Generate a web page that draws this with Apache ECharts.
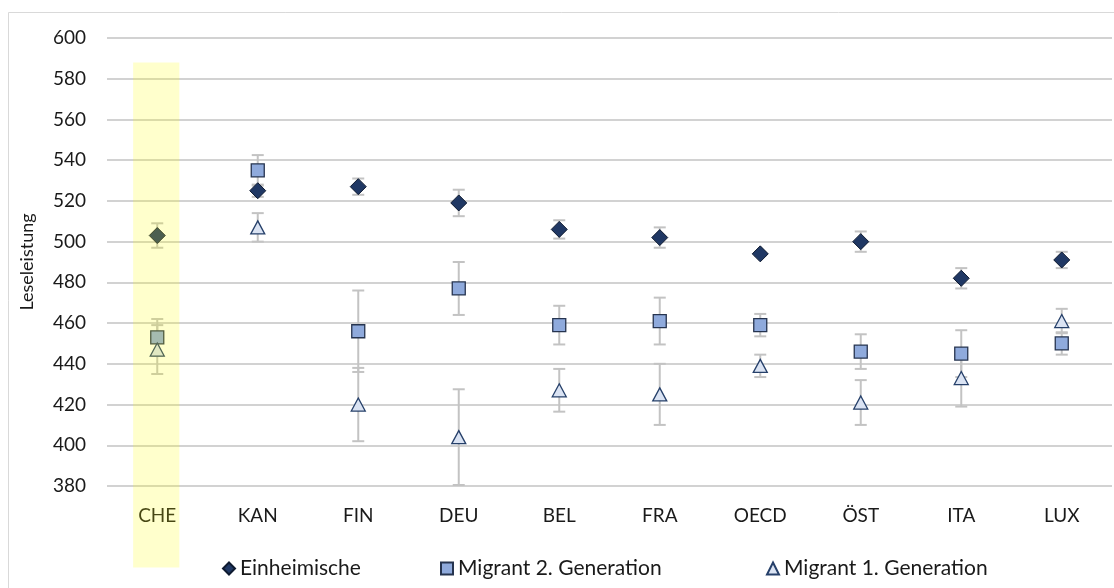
<!DOCTYPE html>
<html>
<head>
<meta charset="utf-8">
<script src="https://cdn.jsdelivr.net/npm/echarts@6/dist/echarts.min.js"></script>
<style>
  html, body { margin: 0; padding: 0; background: #ffffff; }
  #chart { width: 1114px; height: 588px; }
</style>
</head>
<body>
<div id="chart"></div>
<script>
// Reading performance (Leseleistung) by country and migration background
const countries = ['CHE', 'KAN', 'FIN', 'DEU', 'BEL', 'FRA', 'OECD', 'ÖST', 'ITA', 'LUX'];

const einheimische    = [503, 525, 527, 519, 506, 502, 494, 500, 482, 491];
const einheimischeErr = [6, 3, 4, 6.5, 4.5, 5, 1, 5, 5, 4];

const migrant2    = [453, 535, 456, 477, 459, 461, 459, 446, 445, 450];
const migrant2Err = [9, 7.5, 20, 13, 9.5, 11.5, 5.5, 8.5, 11.5, 5.5];

const migrant1    = [447, 507, 420, 404, 427, 425, 439, 421, 433, 461];
const migrant1Err = [12, 7, 18, 23.5, 10.5, 15, 5.5, 11, 14, 6];

const yTicks = { min: 380, max: 600, interval: 20 };
const highlighted = 'CHE';

const FONT = 'Lato, "Open Sans", sans-serif';
const TEXT = '#1a1a1a';

// vertical whisker with caps, drawn through the axis scales
function errorSeries(id, values, errs) {
  return {
    type: 'custom',
    id: id,
    z: 1,
    silent: true,
    data: values.map((v, i) => [i, v - errs[i], v + errs[i]]),
    encode: { x: 0, y: [1, 2] },
    renderItem: function (params, api) {
      const i = api.value(0);
      const lo = api.coord([i, api.value(1)]);
      const hi = api.coord([i, api.value(2)]);
      const half = 6;
      const style = { stroke: '#c3c3c3', lineWidth: 2, fill: null };
      return {
        type: 'group',
        children: [
          { type: 'line', shape: { x1: lo[0], y1: lo[1], x2: hi[0], y2: hi[1] }, style: style },
          { type: 'line', shape: { x1: lo[0] - half, y1: lo[1], x2: lo[0] + half, y2: lo[1] }, style: style },
          { type: 'line', shape: { x1: hi[0] - half, y1: hi[1], x2: hi[0] + half, y2: hi[1] }, style: style }
        ]
      };
    }
  };
}

const legendBase = {
  top: 553,
  itemWidth: 12,
  itemHeight: 12,
  itemGap: 0,
  selectedMode: false,
  textStyle: { fontFamily: FONT, fontSize: 21, color: TEXT, lineHeight: 20 }
};

const chart = echarts.init(document.getElementById('chart'), null, { renderer: 'canvas' });

chart.setOption({
  animation: false,
  backgroundColor: '#ffffff',
  grid: { left: 107, right: 2, top: 38, bottom: 102, containLabel: false },
  xAxis: {
    type: 'category',
    data: countries,
    axisLine: { show: false },
    axisTick: { show: false },
    splitLine: { show: false },
    axisLabel: { fontFamily: FONT, fontSize: 19, color: TEXT, margin: 20 }
  },
  yAxis: {
    type: 'value',
    min: yTicks.min,
    max: yTicks.max,
    interval: yTicks.interval,
    name: 'Leseleistung',
    nameLocation: 'middle',
    nameGap: 71,
    nameTextStyle: { fontFamily: FONT, fontSize: 18, color: TEXT },
    axisLine: { show: false },
    axisTick: { show: false },
    axisLabel: { fontFamily: FONT, fontSize: 19, color: TEXT, margin: 21 },
    splitLine: { lineStyle: { color: '#d2d2d2', width: 2 } }
  },
  legend: [
    Object.assign({}, legendBase, { left: 217, data: [{ name: 'Einheimische', icon: 'diamond' }] }),
    Object.assign({}, legendBase, { left: 435, data: [{ name: 'Migrant 2. Generation', icon: 'rect' }] }),
    Object.assign({}, legendBase, { left: 761, data: [{ name: 'Migrant 1. Generation', icon: 'triangle' }] })
  ],
  series: [
    errorSeries('err-einheimische', einheimische, einheimischeErr),
    errorSeries('err-migrant2', migrant2, migrant2Err),
    errorSeries('err-migrant1', migrant1, migrant1Err),
    {
      type: 'scatter',
      name: 'Einheimische',
      z: 3,
      symbol: 'diamond',
      symbolSize: [16, 16],
      itemStyle: { color: '#203864', borderColor: '#0e1a30', borderWidth: 1, opacity: 1 },
      data: einheimische
    },
    {
      type: 'scatter',
      name: 'Migrant 2. Generation',
      z: 4,
      symbol: 'rect',
      symbolSize: [13, 13],
      itemStyle: { color: '#8faadc', borderColor: '#26344f', borderWidth: 1.3, opacity: 1 },
      data: migrant2
    },
    {
      type: 'scatter',
      name: 'Migrant 1. Generation',
      z: 5,
      symbol: 'triangle',
      symbolSize: [14, 13],
      itemStyle: { color: '#dae3f3', borderColor: '#26406a', borderWidth: 1.3, opacity: 1 },
      data: migrant1
    }
  ]
});

// translucent yellow band over the highlighted country, plus the outer frame
const idx = countries.indexOf(highlighted);
const cx = chart.convertToPixel({ xAxisIndex: 0 }, idx);
const step = chart.convertToPixel({ xAxisIndex: 0 }, idx + 1) - cx;
const bandTop = chart.convertToPixel({ yAxisIndex: 0 }, 588);
const bandBottom = chart.convertToPixel({ yAxisIndex: 0 }, 340);
const bandWidth = step * 0.46;

chart.setOption({
  graphic: [
    {
      type: 'rect',
      z: 100,
      silent: true,
      shape: { x: cx - bandWidth / 2 - 1, y: bandTop, width: bandWidth, height: bandBottom - bandTop },
      style: { fill: 'rgba(255,255,0,0.2)' }
    },
    {
      type: 'rect',
      z: 0,
      silent: true,
      shape: { x: 8.5, y: 12.5, width: 1200, height: 700 },
      style: { fill: null, stroke: '#d9d9d9', lineWidth: 1 }
    }
  ]
});
</script>
</body>
</html>
